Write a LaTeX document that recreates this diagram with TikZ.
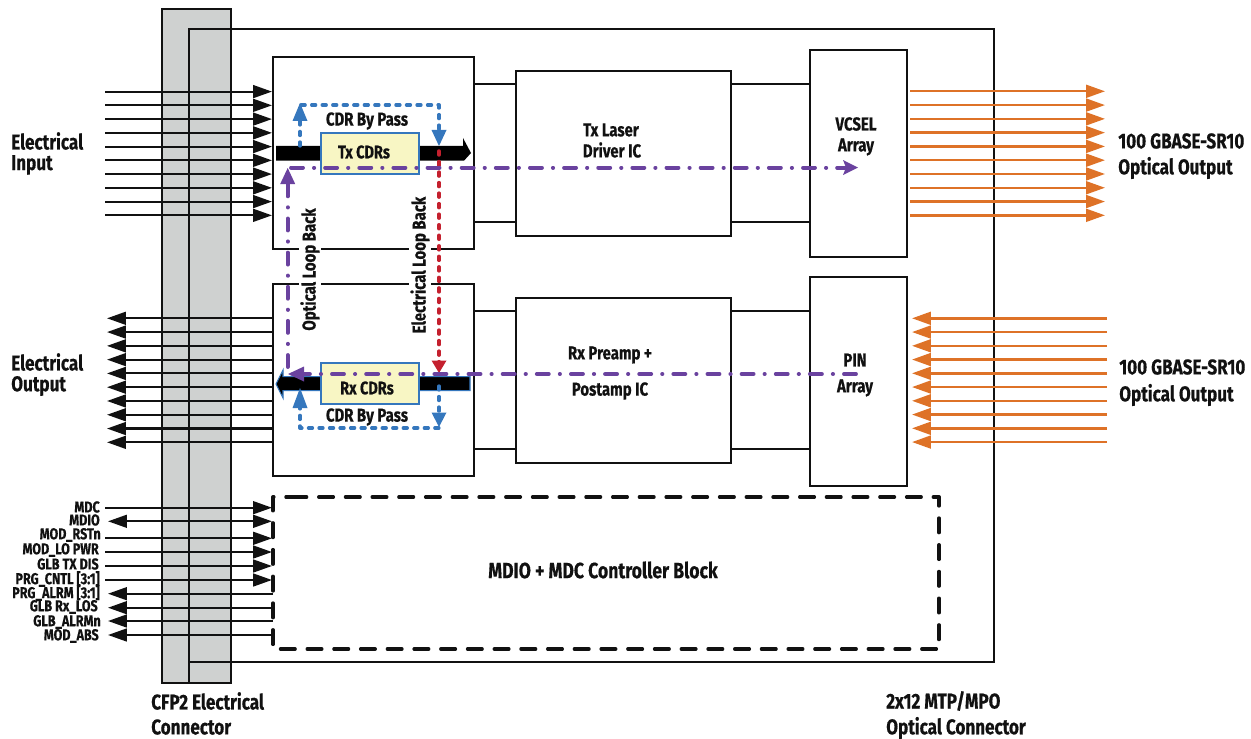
\documentclass[tikz,border=0pt]{standalone}
\usepackage{fontspec}
\setmainfont[FakeStretch=0.80,BoldFont={Fira Sans Bold},BoldFeatures={FakeBold=0.5}]{Fira Sans}
\usetikzlibrary{arrows.meta,calc}
\definecolor{gconn}{HTML}{CFD1D0}
\definecolor{ink}{HTML}{111111}
\definecolor{cdrfill}{HTML}{F8F6C4}
\definecolor{bypass}{HTML}{3577BD}
\definecolor{loopo}{HTML}{6A429F}
\definecolor{loope}{HTML}{C4202E}
\definecolor{fiber}{HTML}{DE7227}
\tikzset{
  x=0.75pt,y=-0.75pt,
  block/.style={draw=ink,line width=1.7pt,fill=white},
  wire/.style={draw=ink,line width=1.5pt},
  sig/.style={draw=ink,line width=1.6pt,-{Triangle[length=14.2pt,width=9.6pt]}},
  sigb/.style={draw=ink,line width=1.6pt,{Triangle[length=14.2pt,width=9.6pt]}-{Triangle[length=14.2pt,width=9.6pt]}},
  opt/.style={draw=fiber,line width=1.8pt,-{Triangle[length=14.2pt,width=9.6pt]}},
  byp/.style={draw=bypass,line width=2.5pt,line cap=round,line join=round,dash pattern=on 3pt off 4.9pt},
  bypa/.style={fill=bypass},
  oloop/.style={draw=loopo,line width=2.9pt,line cap=round,dash pattern=on 9pt off 8.2pt on 0.2pt off 8.2pt},
  eloop/.style={draw=loope,line width=2.6pt,line cap=round,dash pattern=on 3pt off 4.9pt},
  lab/.style={font=\bfseries\fontsize{16}{18}\selectfont,text=ink,inner sep=0pt},
  sml/.style={font=\bfseries\fontsize{14}{16}\selectfont,text=ink,inner sep=0pt},
  tiny/.style={font=\bfseries\fontsize{11.8}{13}\selectfont,text=ink,inner sep=0pt,anchor=east},
  cdr/.style={draw=bypass,line width=1.4pt,fill=cdrfill},
  ctlblock/.style={draw=ink,line width=2.5pt,line cap=round,line join=round,dash pattern=on 11pt off 9.04pt},
}
\begin{document}
\begin{tikzpicture}
\useasboundingbox (0,0) rectangle (1251,738);
% connector and module outline
\draw[fill=gconn,draw=ink,line width=1.7pt] (162,9) rectangle (231,683);
\draw[ink,line width=1.7pt] (189,683) -- (189,29) -- (994,29) -- (994,662) -- (189,662);
% blocks
\path[block] (273,57) rectangle (474,249);
\coordinate (txE1) at (474,84); \coordinate (txE2) at (474,222);
\path[block] (273,284) rectangle (474,476);
\coordinate (rxE1) at (474,311); \coordinate (rxE2) at (474,449);
\path[block] (516,71) rectangle (731,236);
\path[block] (516,298) rectangle (731,463);
\path[block] (810,50) rectangle (907,257);
\path[block] (810,277) rectangle (907,486);
\draw[wire] (txE1) -- (516,84) (txE2) -- (516,222) (rxE1) -- (516,311) (rxE2) -- (516,449);
\draw[wire] (731,84) -- (810,84) (731,222) -- (810,222) (731,311) -- (810,311) (731,449) -- (810,449);
% signal bundles
\foreach \i in {0,...,9}{
  \coordinate (inA\i) at (105,{91.6+13.75*\i});
  \coordinate (inB\i) at (272,{91.6+13.75*\i});
  \draw[sig] (inA\i) -- (inB\i);
  \coordinate (outA\i) at (273,{318.3+13.78*\i});
  \coordinate (outB\i) at (107,{318.3+13.78*\i});
  \draw[sig] (outA\i) -- (outB\i);
  \coordinate (foA\i) at (910,{91.3+13.78*\i});
  \coordinate (foB\i) at (1105,{91.3+13.78*\i});
  \draw[opt] (foA\i) -- (foB\i);
  \coordinate (fiA\i) at (1107,{318.3+13.75*\i});
  \coordinate (fiB\i) at (912,{318.3+13.75*\i});
  \draw[opt] (fiA\i) -- (fiB\i);
}
% control lines
\foreach \y in {507.7,538.3,552,566,580}{\draw[sig] (105,\y) -- (272,\y);}
\draw[sigb] (108,521.3) -- (272,521.3);
\foreach \y in {593.7,607.7,621,635}{\draw[sig] (273,\y) -- (108,\y);}
% controller block
\draw[ctlblock] (292,497) -- (939,497) -- (939,649) -- (273,649) -- (273,497) -- (292,497);
% CDR buses
\fill[black] (276,146) -- (463,146) -- (463,138) -- (471,153) -- (464,160.7) -- (276,160.7) -- cycle;
\draw[bypass,line width=0.8pt,fill=black] (470,376.7) -- (283,376.7) -- (283,370) -- (276,384) -- (283,398) -- (283,390.7) -- (470,390.7) -- cycle;
% bypass paths
\coordinate (bt1) at (300,146); \coordinate (bt2) at (300,105); \coordinate (bt3) at (439,105); \coordinate (bt4) at (439,132);
\draw[byp] (bt1) -- (bt2) -- (bt3) -- (bt4);
\fill[bypa] (300,103) -- (307.5,121) -- (292.5,121) -- cycle;
\fill[bypa] (439,146) -- (431.5,130) -- (446.5,130) -- cycle;
\coordinate (br1) at (439,386); \coordinate (br2) at (439,428); \coordinate (br3) at (300,428); \coordinate (br4) at (300,406);
\draw[byp] (br1) -- (br2) -- (br3) -- (br4);
\fill[bypa] (439,427) -- (431.5,412.5) -- (446.5,412.5) -- cycle;
\fill[bypa] (300,388) -- (307.5,408) -- (292.5,408) -- cycle;
% CDR boxes
\node[cdr,minimum width=73.5pt,minimum height=30.8pt,inner sep=0pt] (txcdr) at (370,153.5) {};
\node[sml,font=\bfseries\fontsize{13.6}{16}\selectfont] (txcdrt) at (364,152) {Tx CDRs};
\node[cdr,minimum width=73.5pt,minimum height=30.8pt,inner sep=0pt] (rxcdr) at (370,383.5) {};
\node[sml,font=\bfseries\fontsize{13.6}{16}\selectfont] (rxcdrt) at (367,388) {Rx CDRs};
\node[sml] (bpt) at (367,121) {CDR By Pass};
\node[sml] (bpb) at (367,417) {CDR By Pass};
% rotated labels
\node[sml,rotate=90,fill=white,inner xsep=2pt,inner ysep=1pt] (oll) at (310,269.5) {Optical Loop Back};
\node[sml,rotate=90,fill=white,inner xsep=2pt,inner ysep=1pt] (ell) at (420,265) {Electrical Loop Back};
% electrical loop back
\coordinate (e1) at (439,151); \coordinate (e2) at (439,362);
\draw[eloop] (e1) -- (e2);
\fill[loope] (439,373) -- (431.5,360.5) -- (446.5,360.5) -- cycle;
% optical loop back
\coordinate (o1) at (287.7,367); \coordinate (o2) at (287.7,183);
\draw[oloop] (o1) -- (o2);
\fill[loopo] (287.7,168) -- (280.2,184) -- (295.2,184) -- cycle;
\coordinate (o3) at (291,167.6); \coordinate (o4) at (845,167.6);
\draw[oloop] (o3) -- (o4);
\fill[loopo] (858,167.6) -- (843,160) -- (846,167.6) -- (843,175) -- cycle;
\coordinate (o5) at (856,374); \coordinate (o6) at (302,374);
\draw[oloop] (o5) -- (o6);
\fill[loopo] (288,374) -- (304,366.5) -- (304,381.5) -- cycle;
% block text
\node[sml] (d1) at (611,130) {Tx Laser};
\node[sml] (d2) at (612,150) {Driver IC};
\node[sml] (v1) at (856,124) {VCSEL};
\node[sml] (v2) at (856,147) {Array};
\node[sml] (r1) at (610,355) {Rx Preamp +};
\node[sml] (r2) at (610,391) {Postamp IC};
\node[sml] (p1) at (855,360) {PIN};
\node[sml] (p2) at (855,388) {Array};
\node[lab,font=\bfseries\fontsize{16.5}{18}\selectfont] (ctl) at (603,570) {MDIO + MDC Controller Block};
% outer labels
\node[lab,anchor=west] (ei1) at (11,141) {Electrical};
\node[lab,anchor=west] (ei2) at (11,165) {Input};
\node[lab,anchor=west] (eo1) at (11,362) {Electrical};
\node[lab,anchor=west] (eo2) at (11,386) {Output};
\node[lab,anchor=west] (oo1) at (1118,141) {100 GBASE-SR10};
\node[lab,anchor=west] (oo2) at (1118,168) {Optical Output};
\node[lab,anchor=west] (oi1) at (1119,367) {100 GBASE-SR10};
\node[lab,anchor=west] (oi2) at (1119,395) {Optical Output};
\node[lab,anchor=west] (c1) at (151,701) {CFP2 Electrical};
\node[lab,anchor=west] (c2) at (151,727) {Connector};
\node[lab,anchor=west] (m1) at (886,701) {2x12 MTP/MPO};
\node[lab,anchor=west] (m2) at (886,728) {Optical Connector};
% control labels
\node[tiny] (t0) at (100,507) {MDC};
\node[tiny] (t1) at (100,520) {MDIO};
\node[tiny] (t2) at (101,535) {MOD\_RSTn};
\node[tiny] (t3) at (99,550) {MOD\_LO PWR};
\node[tiny] (t4) at (99,564) {GLB TX DIS};
\node[tiny] (t5) at (100,579) {PRG\_CNTL [3:1]};
\node[tiny] (t6) at (100,593) {PRG\_ALRM [3:1]};
\node[tiny] (t7) at (98,607) {GLB Rx\_LOS};
\node[tiny] (t8) at (101,622) {GLB\_ALRMn};
\node[tiny] (t9) at (99,636) {MOD\_ABS};
\end{tikzpicture}
\end{document}
